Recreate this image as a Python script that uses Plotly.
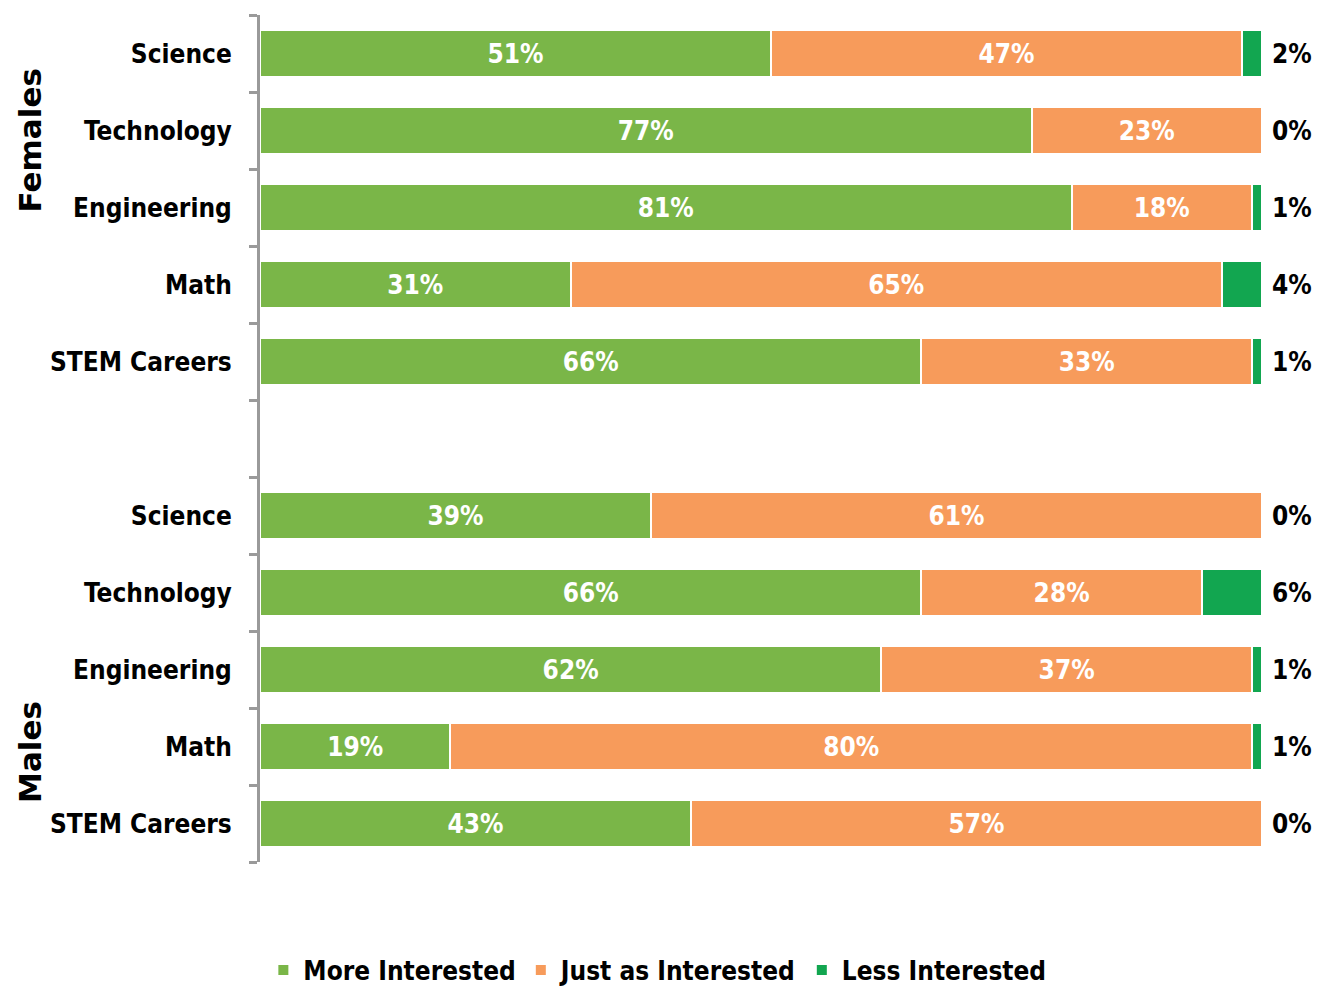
import plotly.graph_objects as go

# ---- data ----
row_ids = ["F_Science", "F_Technology", "F_Engineering", "F_Math", "F_STEM",
           "gap",
           "M_Science", "M_Technology", "M_Engineering", "M_Math", "M_STEM"]
row_labels = ["Science", "Technology", "Engineering", "Math", "STEM Careers",
              "",
              "Science", "Technology", "Engineering", "Math", "STEM Careers"]

data_ids = ["F_Science", "F_Technology", "F_Engineering", "F_Math", "F_STEM",
            "M_Science", "M_Technology", "M_Engineering", "M_Math", "M_STEM"]
more_interested = [51, 77, 81, 31, 66, 39, 66, 62, 19, 43]
just_as_interested = [47, 23, 18, 65, 33, 61, 28, 37, 80, 57]
less_interested = [2, 0, 1, 4, 1, 0, 6, 1, 1, 0]

series_names = ["More Interested", "Just as Interested", "Less Interested"]
colors = ["#7ab648", "#f79b5b", "#12a650"]

FONT = "DejaVu Sans Condensed, Liberation Sans Narrow, sans-serif"
FS = 26

fig = go.Figure()

fig.add_trace(go.Bar(
    y=data_ids, x=more_interested, orientation="h", name=series_names[0],
    marker=dict(color=colors[0], line=dict(color="white", width=2)),
    text=[f"{v}%" for v in more_interested], textposition="inside",
    insidetextanchor="middle",
    textfont=dict(color="white", size=FS, family=FONT, weight="bold"),
    hoverinfo="skip",
))
fig.add_trace(go.Bar(
    y=data_ids, x=just_as_interested, orientation="h", name=series_names[1],
    marker=dict(color=colors[1], line=dict(color="white", width=2)),
    text=[f"{v}%" for v in just_as_interested], textposition="inside",
    insidetextanchor="middle",
    textfont=dict(color="white", size=FS, family=FONT, weight="bold"),
    hoverinfo="skip",
))
fig.add_trace(go.Bar(
    y=data_ids, x=less_interested, orientation="h", name=series_names[2],
    marker=dict(color=colors[2], line=dict(color="white", width=2)),
    hoverinfo="skip",
))

totals = [a + b + c for a, b, c in zip(more_interested, just_as_interested, less_interested)]
annotations = [
    dict(x=t, y=rid, xref="x", yref="y", text=f"{v}%", showarrow=False,
         xanchor="left", yanchor="middle", xshift=8,
         font=dict(color="black", size=FS, family=FONT, weight="bold"))
    for rid, t, v in zip(data_ids, totals, less_interested)
]
annotations += [
    dict(text="Females", xref="paper", yref="paper", x=-0.2295, y=0.852,
         textangle=-90, showarrow=False, xanchor="center", yanchor="middle",
         font=dict(size=31, family="DejaVu Sans", color="black", weight="bold")),
    dict(text="Males", xref="paper", yref="paper", x=-0.2295, y=0.130,
         textangle=-90, showarrow=False, xanchor="center", yanchor="middle",
         font=dict(size=31, family="DejaVu Sans", color="black", weight="bold")),
]

fig.update_layout(
    barmode="stack",
    bargap=0.4,
    width=1320, height=989,
    margin=dict(l=260, r=58, t=15, b=127, autoexpand=False),
    paper_bgcolor="white", plot_bgcolor="white",
    showlegend=True,
    legend=dict(orientation="h", xref="container", yref="container",
                x=0.498, xanchor="center", y=0.019, yanchor="middle",
                font=dict(size=FS, family=FONT, color="black", weight="bold"),
                itemsizing="constant", traceorder="normal"),
    xaxis=dict(range=[0, 100], visible=False, fixedrange=True),
    yaxis=dict(
        type="category",
        categoryorder="array", categoryarray=row_ids,
        autorange="reversed",
        tickmode="array", tickvals=row_ids, ticktext=row_labels,
        tickson="boundaries", ticks="outside", ticklen=8, tickwidth=3, tickcolor="#9a9a9a",
        showline=True, linecolor="#9a9a9a", linewidth=3,
        showgrid=False, zeroline=False,
        tickfont=dict(size=FS, family=FONT, color="black", weight="bold"),
        ticklabelstandoff=20,
    ),
    annotations=annotations,
)

fig.write_html("out.html")
